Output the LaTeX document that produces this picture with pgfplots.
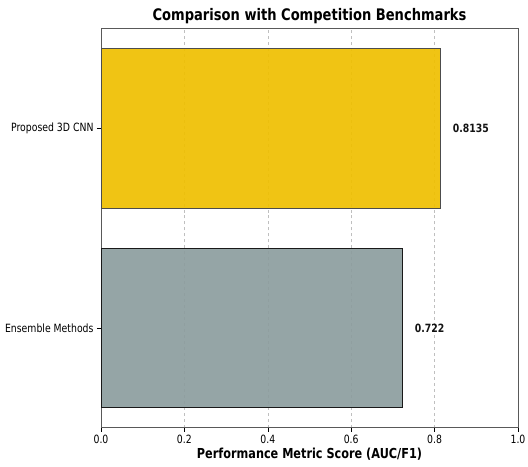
\documentclass[border=0pt]{standalone}
\usepackage{fontspec}
\setmainfont{DejaVu Sans}[FakeStretch=0.82]
\usepackage{pgfplots}
\pgfplotsset{compat=1.18}
\definecolor{cnngold}{HTML}{EFBF00}
\definecolor{ensgray}{HTML}{8C9D9E}
\begin{document}
\begin{tikzpicture}
\begin{axis}[
    name=ax,
    scale only axis,
    width=417bp, height=399bp,
    xbar,
    bar width=0.8,
    xmin=0, xmax=1,
    ymin=-0.5, ymax=1.5,
    ytick={0,1},
    yticklabels={Ensemble Methods, Proposed 3D CNN},
    xtick={0,0.2,0.4,0.6,0.8,1.0},
    xtick pos=bottom, ytick pos=left,
    xticklabel style={/pgf/number format/fixed, /pgf/number format/fixed zerofill, /pgf/number format/precision=1},
    /pgf/number format/assume math mode=true,
    ticklabel style={font=\fontsize{11.4}{13}\selectfont},
    tick align=outside,
    tick style={black, line width=0.6pt},
    major tick length=4bp,
    axis line style={black!65, line width=0.7pt},
    xmajorgrids,
    major grid style={dashed, black!25, line width=0.5pt},
    title={\fontsize{16}{18}\selectfont\bfseries Comparison with Competition Benchmarks},
    title style={yshift=-5bp},
    xlabel={\fontsize{13.8}{16}\selectfont\bfseries Performance Metric Score (AUC/F1)},
    xlabel style={yshift=3bp},
    point meta=explicit symbolic,
    nodes near coords,
    nodes near coords style={anchor=west, xshift=9bp, font=\fontsize{11.4}{13}\selectfont\bfseries},
]
\addplot[fill=cnngold, fill opacity=0.92, draw=black!70, line width=0.8pt, bar shift=0pt] coordinates {(0.8135,1) [0.8135]};
\addplot[fill=ensgray, fill opacity=0.92, draw=black!90, line width=0.8pt, bar shift=0pt] coordinates {(0.722,0) [0.722]};
\end{axis}
\pgfresetboundingbox
\path ([xshift=-101bp, yshift=28.7bp]ax.north west) rectangle ++(528bp,-467bp);
\end{tikzpicture}
\end{document}
